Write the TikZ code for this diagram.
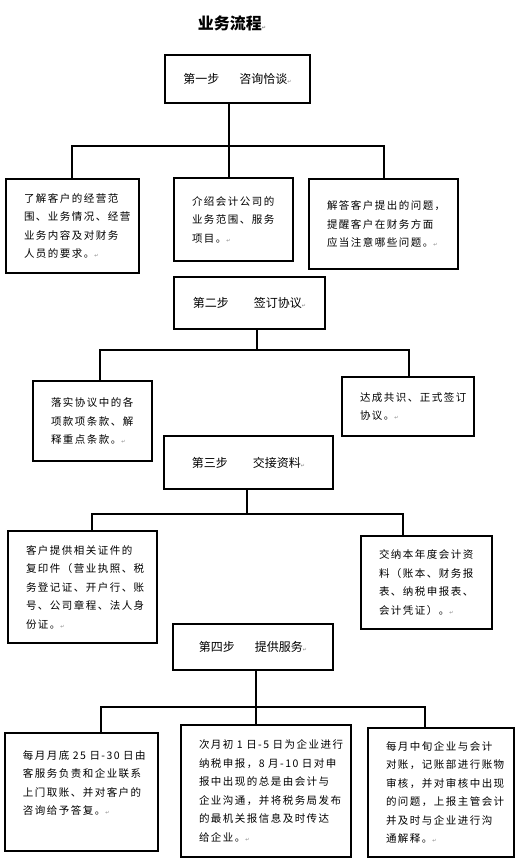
\documentclass[tikz,border=0pt]{standalone}
\usepackage{fontspec}
\newfontfamily\cjk[LetterSpace=14]{Noto Sans CJK SC}
\newfontfamily\cjkstep{Noto Sans CJK SC}
\newfontfamily\symfont{DejaVu Sans}
\newcommand{\pmark}{{\color{gray}\symfont\tiny ↵}}

\begin{document}
\begin{tikzpicture}[
    x=1pt, y=-1pt,
    every node/.style={font=\cjk},
    stepbox/.style={draw, line width=1.5pt, inner sep=0pt, font=\cjkstep\fontsize{12}{14}\selectfont},
    infobox/.style={draw, line width=1.5pt, align=left, inner xsep=18pt, inner ysep=0pt, font=\cjk\fontsize{10.5}{18.5}\selectfont},
    link/.style={line width=1.5pt}
  ]
    \useasboundingbox (0,0) rectangle (521,859);

    % Title
    \node[font=\cjkstep\bfseries\fontsize{16}{18}\selectfont] (title) at (232,23) {业务流程\pmark};

    % Step 1
    \node[stepbox, minimum width=145pt, minimum height=48pt] (step1) at (237.5,79) {第一步\hspace{20pt}咨询恰谈\pmark};
    \node[infobox, text width=97pt, minimum height=94pt] (ask1) at (72.5,226)
      {了解客户的经营范\\围、业务情况、经营\\业务内容及对财务\\人员的要求。\pmark};
    \node[infobox, text width=83pt, minimum height=83pt] (ask2) at (233.5,219.5)
      {介绍会计公司的\\业务范围、服务\\项目。\pmark};
    \node[infobox, text width=113pt, minimum height=90pt] (ask3) at (383.5,224)
      {解答客户提出的问题，\\提醒客户在财务方面\\应当注意哪些问题。\pmark};

    % Step 2
    \node[stepbox, minimum width=151pt, minimum height=52pt] (step2) at (249.5,303) {第二步\hspace{25pt}签订协议\pmark};
    \node[infobox, text width=83pt, minimum height=80pt] (sign1) at (92.5,421)
      {落实协议中的各\\项款项条款、解\\释重点条款。\pmark};
    \node[infobox, text width=96pt, minimum height=59pt] (sign2) at (408,406.5)
      {达成共识、正式签订\\协议。\pmark};

    % Step 3
    \node[stepbox, minimum width=169pt, minimum height=53pt] (step3) at (248.5,462.5) {第三步\hspace{25pt}交接资料\pmark};
    \node[infobox, text width=113pt, minimum height=112pt] (hand1) at (82.5,587)
      {客户提供相关证件的\\复印件（营业执照、税\\务登记证、开户行、账\\号、公司章程、法人身\\份证。\pmark};
    \node[infobox, text width=95pt, minimum height=93pt] (hand2) at (426.5,582.5)
      {交纳本年度会计资\\料（账本、财务报\\表、纳税申报表、\\会计凭证）。\pmark};

    % Step 4
    \node[stepbox, minimum width=160pt, minimum height=46pt] (step4) at (253,647) {第四步\hspace{20pt}提供服务\pmark};
    \node[infobox, text width=117pt, minimum height=118pt] (serve1) at (81.5,792)
      {\mbox{每月月底 25 日-30 日由}\\客服务负责和企业联系\\上门取账、并对客户的\\咨询给予答复。\pmark\\ \mbox{}};
    \node[infobox, text width=134pt, minimum height=132pt] (serve2) at (266,791)
      {\mbox{次月初 1 日-5 日为企业进行}\\\mbox{纳税申报，8 月-10 日对申}\\报中出现的总是由会计与\\企业沟通，并将税务局发布\\的最机关报信息及时传达\\给企业。\pmark};
    \node[infobox, text width=110pt, minimum height=129pt] (serve3) at (441,792.5)
      {每月中旬企业与会计\\对账，记账部进行账物\\审核，并对审核中出现\\的问题，上报主管会计\\并及时与企业进行沟\\通解释。\pmark};

    % Bus points
    \coordinate (bus1l) at (72,146);  \coordinate (bus1m) at (229,146); \coordinate (bus1r) at (384,146);
    \coordinate (bus2l) at (100,350); \coordinate (bus2m) at (257,350); \coordinate (bus2r) at (409,350);
    \coordinate (bus3l) at (92,514);  \coordinate (bus3m) at (247,514); \coordinate (bus3r) at (403,514);
    \coordinate (bus4l) at (101,707); \coordinate (bus4m) at (256,707); \coordinate (bus4r) at (425,707);

    % Connections
    \draw[link] (step1.south -| bus1m) -- (bus1m);
    \draw[link] (bus1l |- ask1.north) -- (bus1l) -- (bus1r) -- (bus1r |- ask3.north);
    \draw[link] (bus1m) -- (bus1m |- ask2.north);

    \draw[link] (step2.south -| bus2m) -- (bus2m);
    \draw[link] (bus2l |- sign1.north) -- (bus2l) -- (bus2r) -- (bus2r |- sign2.north);

    \draw[link] (step3.south -| bus3m) -- (bus3m);
    \draw[link] (bus3l |- hand1.north) -- (bus3l) -- (bus3r) -- (bus3r |- hand2.north);

    \draw[link] (step4.south -| bus4m) -- (bus4m);
    \draw[link] (bus4l |- serve1.north) -- (bus4l) -- (bus4r) -- (bus4r |- serve3.north);
    \draw[link] (bus4m) -- (bus4m |- serve2.north);

  \end{tikzpicture}
\end{document}
